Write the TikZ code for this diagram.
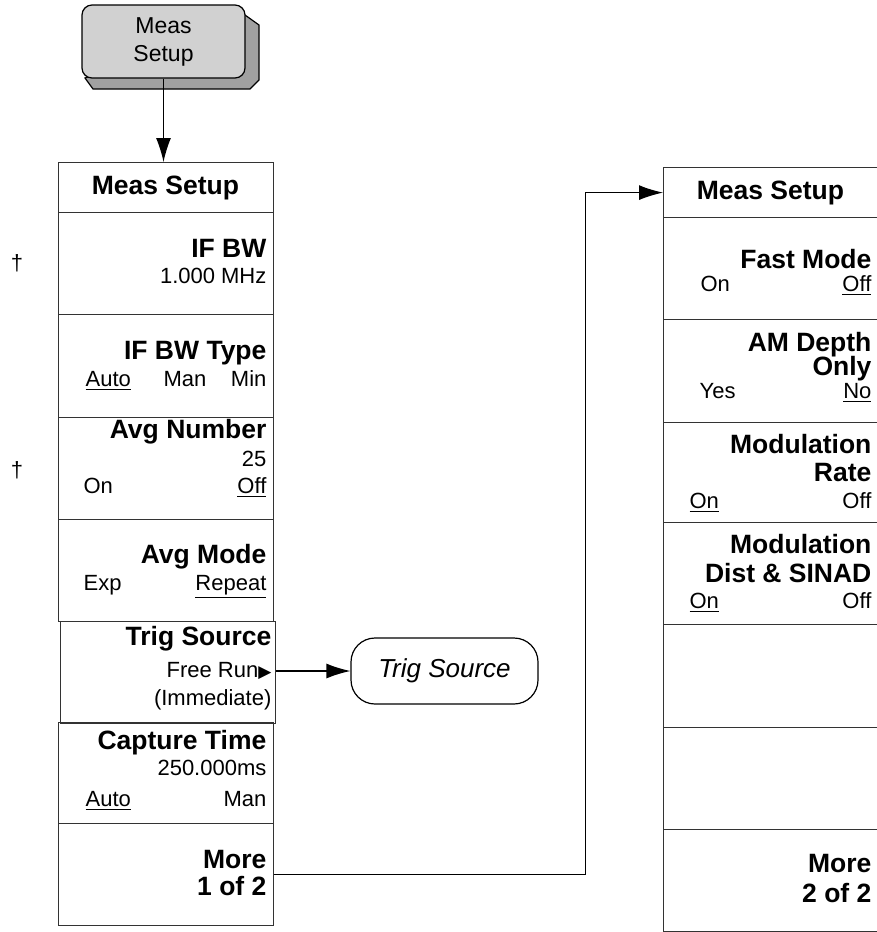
\documentclass[tikz,border=0pt]{standalone}
\usepackage{fontspec}
\setmainfont{Liberation Sans}
\setsansfont{Liberation Sans}
\newfontfamily\symfont{DejaVu Sans}
\usetikzlibrary{arrows.meta}

\begin{document}
\begin{tikzpicture}[
                x=0.5pt, y=-0.5pt,
                font=\sffamily,
                line width=0.6pt,
                >={Latex[length=12pt,width=7.5pt]},
                % cella di un menu di softkey
                softkey/.style={
                    draw=black!80,
                    minimum width=107.5pt,
                    anchor=north west,
                    inner sep=0pt
                },
                % testi delle softkey
                keyttl/.style={font=\sffamily\fontsize{13.25}{15}\selectfont\bfseries, inner sep=0pt, anchor=base east},
                keyval/.style={font=\sffamily\fontsize{11}{13}\selectfont, inner sep=0pt, anchor=base east},
                keyvall/.style={keyval, anchor=base west}
            ]

                \useasboundingbox (0,0) rectangle (877,932);

                % ========================================================
                % 1. Tasto fisico Meas Setup (in alto)
                % ========================================================
                \draw[fill=black!37] (245,15) -- (259,25) -- (259,80) -- (250,89) -- (93,89) -- (85,78) -- cycle;
                \node[draw, fill=black!18, rounded corners=5pt, minimum width=81.5pt, minimum height=36.5pt,
                      align=center, font=\sffamily\fontsize{11.5}{14}\selectfont] (measkey) at (163.5,41.5) {Meas\\Setup};

                % ========================================================
                % 2. Menu Meas Setup, pagina 1 di 2
                % ========================================================
                \node[softkey, minimum height=25pt] (lhdr) at (58,162) {};
                \node[softkey, minimum height=51pt] (ifbw) at (58,212) {};
                \node[softkey, minimum height=51.5pt] (ifbwtype) at (58,314) {};
                \node[softkey, minimum height=51pt] (avgnum) at (58,417) {};
                \node[softkey, minimum height=51pt] (avgmode) at (58,519) {};
                \node[softkey, minimum height=51pt] (trigsrc) at (60,621) {};
                \node[softkey, minimum height=50.5pt] (capture) at (58,722) {};
                \node[softkey, minimum height=51pt] (more1) at (58,823) {};

                % Freccia dal tasto al menu
                \draw[->] (measkey.south) -- (measkey.south |- lhdr.north);

                \node[keyttl, anchor=base] (lhdr-t) at (165.5,194) {Meas Setup};

                \node[keyttl] (ifbw-t) at (267,257) {IF BW};
                \node[keyval] (ifbw-v) at (267,283) {1.000 MHz};

                \node[keyttl] (ifbwtype-t) at (267,359) {IF BW Type};
                \node[keyvall] (ifbwtype-a) at (85,386) {\underline{Auto}};
                \node[keyvall] (ifbwtype-m) at (163,386) {Man};
                \node[keyval] (ifbwtype-n) at (267,386) {Min};

                \node[keyttl] (avgnum-t) at (267,438) {Avg Number};
                \node[keyval] (avgnum-v) at (267,466) {25};
                \node[keyvall] (avgnum-on) at (83,493) {On};
                \node[keyval] (avgnum-off) at (267,493) {\underline{Off}};

                \node[keyttl] (avgmode-t) at (267,563) {Avg Mode};
                \node[keyvall] (avgmode-e) at (83,590) {Exp};
                \node[keyval] (avgmode-r) at (267,590) {\underline{Repeat}};

                \node[keyttl] (trigsrc-t) at (272,645) {Trig Source};
                \node[keyval] (trigsrc-v) at (272,677) {Free Run{\symfont\fontsize{8.5}{10}\selectfont ▶}};
                \node[keyval] (trigsrc-i) at (272,705) {(Immediate)};

                \node[keyttl] (capture-t) at (267,749) {Capture Time};
                \node[keyval] (capture-v) at (267,775) {250.000ms};
                \node[keyvall] (capture-a) at (85,806) {\underline{Auto}};
                \node[keyval] (capture-m) at (267,806) {Man};

                \node[keyttl] (more1-t) at (267,868) {More};
                \node[keyttl] (more1-p) at (267,895) {1 of 2};

                % Segni di nota
                \node[keyval, anchor=center] (dag1) at (17,263) {†};
                \node[keyval, anchor=center] (dag2) at (17,470) {†};

                % ========================================================
                % 3. Sottomenu Trig Source
                % ========================================================
                \node[draw, rounded corners=12pt, minimum width=93.5pt, minimum height=33pt,
                      font=\sffamily\fontsize{13}{15}\selectfont\itshape] (trigmenu) at (444.5,671) {Trig Source};
                \draw[->] (trigmenu.west -| trigsrc.east) -- (trigmenu.west);

                % ========================================================
                % 4. Menu Meas Setup, pagina 2 di 2
                % ========================================================
                \node[softkey, minimum width=108.5pt, minimum height=25pt] (rhdr) at (663,167) {};
                \node[softkey, minimum width=108.5pt, minimum height=51pt] (fastmode) at (663,217) {};
                \node[softkey, minimum width=108.5pt, minimum height=51.5pt] (amdepth) at (663,319) {};
                \node[softkey, minimum width=108.5pt, minimum height=50pt] (modrate) at (663,422) {};
                \node[softkey, minimum width=108.5pt, minimum height=51pt] (moddist) at (663,522) {};
                \node[softkey, minimum width=108.5pt, minimum height=51.5pt] (blanka) at (663,624) {};
                \node[softkey, minimum width=108.5pt, minimum height=51pt] (blankb) at (663,727) {};
                \node[softkey, minimum width=108.5pt, minimum height=51pt] (more2) at (663,829) {};

                % Collegamento More 1 of 2 -> pagina 2
                \draw[->] (more1.east) -- ++(311,0) |- (rhdr.west);

                \node[keyttl, anchor=base] (rhdr-t) at (770.5,199) {Meas Setup};

                \node[keyttl] (fastmode-t) at (872,268) {Fast Mode};
                \node[keyvall] (fastmode-on) at (700,291) {On};
                \node[keyval] (fastmode-off) at (872,291) {\underline{Off}};

                \node[keyttl] (amdepth-t) at (872,351) {AM Depth};
                \node[keyttl] (amdepth-o) at (872,375) {Only};
                \node[keyvall] (amdepth-y) at (699,398) {Yes};
                \node[keyval] (amdepth-n) at (872,398) {\underline{No}};

                \node[keyttl] (modrate-t) at (872,453) {Modulation};
                \node[keyttl] (modrate-r) at (872,481) {Rate};
                \node[keyvall] (modrate-on) at (689,508) {\underline{On}};
                \node[keyval] (modrate-off) at (872,508) {Off};

                \node[keyttl] (moddist-t) at (872,553) {Modulation};
                \node[keyttl] (moddist-d) at (872,582) {Dist \& SINAD};
                \node[keyvall] (moddist-on) at (689,608) {\underline{On}};
                \node[keyval] (moddist-off) at (872,608) {Off};

                \node[keyttl] (more2-t) at (872,872) {More};
                \node[keyttl] (more2-p) at (872,902) {2 of 2};

            \end{tikzpicture}
\end{document}
